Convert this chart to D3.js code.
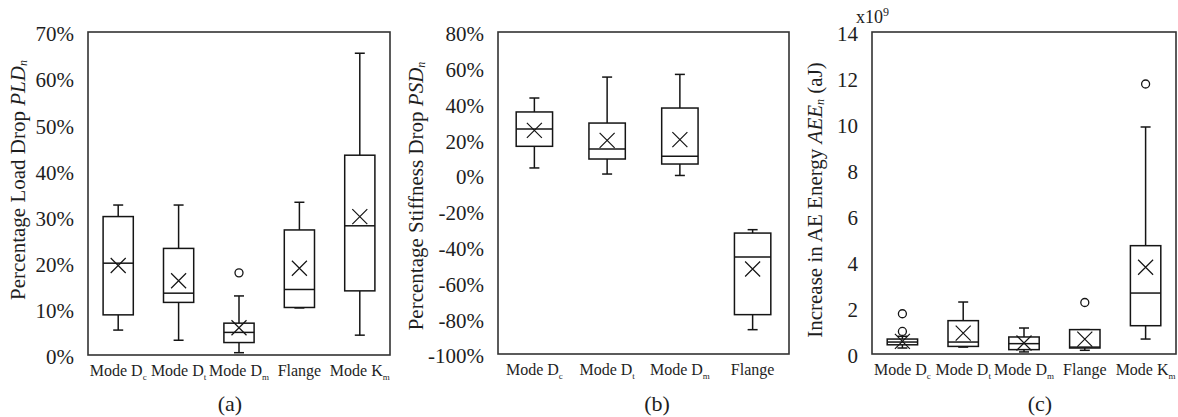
<!DOCTYPE html>
<html>
<head>
<meta charset="utf-8">
<script src="https://cdn.jsdelivr.net/npm/d3@7"></script>
<style>
  html, body { margin: 0; padding: 0; background: #fff; }
  svg, svg text { font-family: "Liberation Serif", "Times New Roman", "DejaVu Serif", serif !important; }
</style>
</head>
<body>
<svg id="chart" width="1178" height="417"></svg>
<script>
// ---- (a) Percentage load drop ----
const loadCats   = ["Mode D_c", "Mode D_t", "Mode D_m", "Flange", "Mode K_m"];
const loadMin    = [5.4, 3.2, 0.5, 10.2, 4.3];
const loadQ1     = [8.7, 11.4, 2.7, 10.3, 13.9];
const loadMedian = [19.9, 13.4, 4.9, 14.2, 28.0];
const loadQ3     = [30.0, 23.1, 6.9, 27.1, 43.3];
const loadMax    = [32.5, 32.5, 12.8, 33.1, 65.4];
const loadMean   = [19.4, 16.1, 5.9, 18.8, 30.0];
const loadOutliers = [[], [], [17.8], [], []];
const loadTicks  = [0, 10, 20, 30, 40, 50, 60, 70];

// ---- (b) Percentage stiffness drop ----
const stiffCats   = ["Mode D_c", "Mode D_t", "Mode D_m", "Flange"];
const stiffMin    = [4.0, 0.6, -0.2, -86.4];
const stiffQ1     = [16.1, 9.0, 6.2, -78.0];
const stiffMedian = [25.8, 14.6, 10.5, -45.8];
const stiffQ3     = [35.3, 29.1, 37.5, -32.4];
const stiffMax    = [43.1, 54.8, 56.3, -30.5];
const stiffMean   = [25.0, 19.4, 19.8, -52.5];
const stiffOutliers = [[], [], [], []];
const stiffTicks  = [-100, -80, -60, -40, -20, 0, 20, 40, 60, 80];

// ---- (c) Increase in AE energy (x10^9 aJ) ----
const energyCats   = ["Mode D_c", "Mode D_t", "Mode D_m", "Flange", "Mode K_m"];
const energyMin    = [0.26, 0.30, 0.09, 0.16, 0.65];
const energyQ1     = [0.40, 0.33, 0.19, 0.26, 1.23];
const energyMedian = [0.52, 0.52, 0.45, 0.30, 2.65];
const energyQ3     = [0.65, 1.45, 0.74, 1.06, 4.71];
const energyMax    = [0.77, 2.26, 1.13, 1.06, 9.87];
const energyMean   = [0.55, 0.91, 0.48, 0.65, 3.77];
const energyOutliers = [[0.98, 1.75], [], [], [2.24], [11.74]];
const energyTicks  = [0, 2, 4, 6, 8, 10, 12, 14];

const svg = d3.select("#chart");
const INK = "#151515";
const TXT = "#1e1e1e";

function boxStats(cats, mn, q1, med, q3, mx, mean, outl) {
  return cats.map((c, i) => ({
    cat: c, min: mn[i], q1: q1[i], median: med[i], q3: q3[i], max: mx[i],
    mean: mean[i], outliers: outl[i]
  }));
}

const panels = [
  {
    frame: { x0: 88, x1: 390, y0: 32, y1: 355 },
    domain: [0, 70], ticks: loadTicks, fmt: d => d + "%",
    data: boxStats(loadCats, loadMin, loadQ1, loadMedian, loadQ3, loadMax, loadMean, loadOutliers),
    cats: loadCats,
    title: ["Percentage Load Drop ", "PLD", "n"], titleX: 18, titleY: 180,
    tag: "(a)", tagX: 230
  },
  {
    frame: { x0: 498, x1: 789, y0: 32, y1: 354 },
    domain: [-100, 80], ticks: stiffTicks, fmt: d => d + "%",
    data: boxStats(stiffCats, stiffMin, stiffQ1, stiffMedian, stiffQ3, stiffMax, stiffMean, stiffOutliers),
    cats: stiffCats,
    title: ["Percentage Stiffness Drop ", "PSD", "n"], titleX: 416, titleY: 196,
    tag: "(b)", tagX: 657
  },
  {
    frame: { x0: 872, x1: 1176, y0: 32, y1: 354 },
    domain: [0, 14], ticks: energyTicks, fmt: d => String(d),
    data: boxStats(energyCats, energyMin, energyQ1, energyMedian, energyQ3, energyMax, energyMean, energyOutliers),
    cats: energyCats,
    title: ["Increase in AE Energy ", "AEE", "n", " (aJ)"], titleX: 815, titleY: 200,
    tag: "(c)", tagX: 1040,
    exponent: true
  }
];

panels.forEach(p => {
  const f = p.frame;
  const x = d3.scaleBand().domain(p.cats).range([f.x0, f.x1]);
  const y = d3.scaleLinear().domain(p.domain).range([f.y1, f.y0]);
  const g = svg.append("g");

  // plot frame
  g.append("rect")
    .attr("x", f.x0).attr("y", f.y0)
    .attr("width", f.x1 - f.x0).attr("height", f.y1 - f.y0)
    .attr("fill", "none").attr("stroke", "#333").attr("stroke-width", 1.6);

  // y axis labels
  const ya = g.append("g").attr("transform", `translate(${f.x0},0)`)
    .call(d3.axisLeft(y).tickValues(p.ticks).tickSize(0).tickPadding(14).tickFormat(p.fmt));
  ya.attr("font-family", null);
  ya.select(".domain").remove();
  ya.selectAll("text")
    .attr("font-size", 21)
    .attr("fill", TXT).attr("dy", "0.42em");

  if (p.exponent) {
    const t = g.append("text")
      .attr("x", f.x0 - 16).attr("y", 23)
      .attr("font-size", 18).attr("fill", TXT);
    t.append("tspan").text("x10");
    t.append("tspan").attr("dy", -7).attr("font-size", 12).text("9");
  }

  // category labels
  const xa = g.append("g").attr("transform", `translate(0,${f.y1})`)
    .call(d3.axisBottom(x).tickSize(0).tickPadding(10));
  xa.attr("font-family", null);
  xa.select(".domain").remove();
  xa.selectAll("text")
    .attr("font-size", 16)
    .attr("fill", TXT)
    .each(function (d) {
      const parts = d.split("_");
      const t = d3.select(this).text(null);
      t.append("tspan").text(parts[0]);
      if (parts[1]) {
        t.append("tspan").attr("font-size", 9).attr("dy", 4).text(parts[1]);
      }
    });

  // boxes
  const bw = x.bandwidth() * 0.5;
  const capW = 10;
  const box = g.selectAll(".box").data(p.data).enter().append("g")
    .attr("transform", d => `translate(${x(d.cat) + x.bandwidth() / 2},0)`)
    .attr("stroke", INK).attr("stroke-width", 1.5).attr("fill", "none");

  box.append("line").attr("x1", 0).attr("x2", 0)
    .attr("y1", d => y(d.q3)).attr("y2", d => y(d.max));
  box.append("line").attr("x1", 0).attr("x2", 0)
    .attr("y1", d => y(d.q1)).attr("y2", d => y(d.min));
  box.append("line").attr("x1", -capW / 2).attr("x2", capW / 2)
    .attr("y1", d => y(d.max)).attr("y2", d => y(d.max));
  box.append("line").attr("x1", -capW / 2).attr("x2", capW / 2)
    .attr("y1", d => y(d.min)).attr("y2", d => y(d.min));
  box.append("rect")
    .attr("x", -bw / 2).attr("width", bw)
    .attr("y", d => y(d.q3)).attr("height", d => y(d.q1) - y(d.q3))
    .attr("fill", "#fff");
  box.append("line").attr("x1", -bw / 2).attr("x2", bw / 2)
    .attr("y1", d => y(d.median)).attr("y2", d => y(d.median));

  // mean marker (x)
  const m = 7.5;
  box.append("path")
    .attr("stroke-width", 1.2)
    .attr("d", d => {
      const cy = y(d.mean);
      return `M${-m},${cy - m}L${m},${cy + m}M${-m},${cy + m}L${m},${cy - m}`;
    });

  // outliers
  box.selectAll("circle").data(d => d.outliers).enter().append("circle")
    .attr("cx", 0).attr("cy", v => y(v)).attr("r", 4)
    .attr("fill", "#fff").attr("stroke-width", 1.3);

  // y axis title
  const title = g.append("text")
    .attr("transform", `translate(${p.titleX},${p.titleY}) rotate(-90)`)
    .attr("text-anchor", "middle").attr("dominant-baseline", "central")
    .attr("font-size", 21).attr("fill", TXT);
  title.append("tspan").text(p.title[0]);
  title.append("tspan").attr("font-style", "italic").text(p.title[1]);
  title.append("tspan").attr("font-style", "italic").attr("font-size", 12).attr("dy", 5).text(p.title[2]);
  if (p.title[3]) title.append("tspan").attr("dy", -5).text(p.title[3]);

  // panel tag
  g.append("text").attr("x", p.tagX).attr("y", 411)
    .attr("text-anchor", "middle").attr("font-size", 22).attr("fill", TXT)
    .text(p.tag);
});
</script>
</body>
</html>
